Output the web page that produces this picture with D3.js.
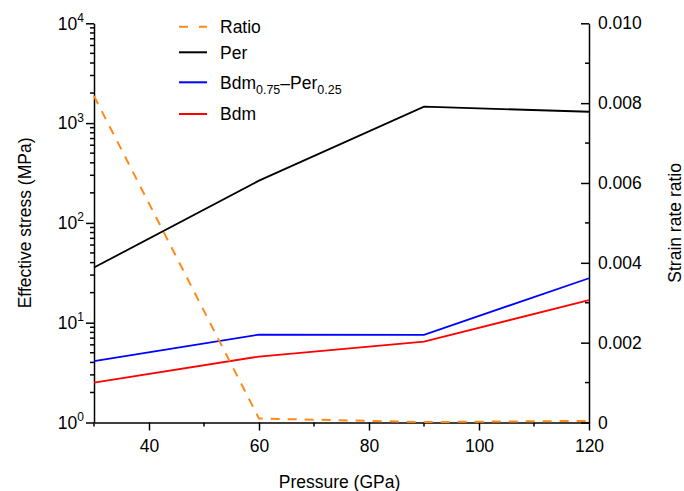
<!DOCTYPE html>
<html>
<head>
<meta charset="utf-8">
<script src="https://cdn.jsdelivr.net/npm/d3@7"></script>
<style>
  body { margin: 0; background: #fff; }
  svg { font-family: "Liberation Sans", Arial, Helvetica, sans-serif; }
  .axis path, .axis line { stroke: #000; stroke-width: 1.5; }
  .axis text { font-size: 17.5px; fill: #000; }
</style>
</head>
<body>
<svg id="chart" width="684" height="491"></svg>
<script>
// pressure points (GPa)
const pressure = [30, 60, 90, 120];
// effective stress (MPa), log axis
const per = [35.7, 265, 1460, 1300];
const bdmPer = [4.12, 7.6, 7.56, 27.9];
const bdm = [2.51, 4.58, 6.47, 16.8];
// strain rate ratio, right axis
const ratio = [0.00818, 0.0001, 0.00001, 0.00004];

const xTicks = [40, 60, 80, 100, 120];
const xMinor = [30, 50, 70, 90, 110];
const yDecades = [0, 1, 2, 3, 4];
const y2Ticks = [0, 0.002, 0.004, 0.006, 0.008, 0.010];
const y2Minor = [0.001, 0.003, 0.005, 0.007, 0.009];

const mLeft = 94, mRight = 589, mTop = 23.3, mBottom = 422.5;
const fs = 17.5;

let svg = d3.select('#chart');
let x = d3.scaleLinear().domain([30, 120]).range([mLeft, mRight]);
let y = d3.scaleLog().domain([1, 10000]).range([mBottom, mTop]);
let y2 = d3.scaleLinear().domain([0, 0.010]).range([mBottom, mTop]);

// minor ticks
let minorLog = [];
yDecades.slice(0, 4).forEach(e => {
    for (let k = 2; k <= 9; k++) minorLog.push(k * Math.pow(10, e));
});
let minor = svg.append('g').attr('stroke', '#000').attr('stroke-width', 1.5);
minor.selectAll('.ml').data(minorLog).enter().append('line')
    .attr('x1', mLeft - 4).attr('x2', mLeft)
    .attr('y1', d => y(d)).attr('y2', d => y(d));
minor.selectAll('.mr').data(y2Minor).enter().append('line')
    .attr('x1', mRight - 4).attr('x2', mRight)
    .attr('y1', d => y2(d)).attr('y2', d => y2(d));
minor.selectAll('.mb').data(xMinor).enter().append('line')
    .attr('x1', d => x(d)).attr('x2', d => x(d))
    .attr('y1', mBottom).attr('y2', mBottom + 4);

// bottom axis
svg.append('g').attr('class', 'axis')
    .attr('transform', 'translate(0,' + mBottom + ')')
    .call(d3.axisBottom(x).tickValues(xTicks).tickSize(8).tickSizeOuter(0).tickPadding(9));

// left axis with 10^n labels
svg.append('g').attr('class', 'axis')
    .attr('transform', 'translate(' + mLeft + ',0)')
    .call(d3.axisLeft(y).tickValues(yDecades.map(e => Math.pow(10, e)))
        .tickSize(8).tickSizeOuter(0).tickFormat(''));
let labs = svg.append('g').attr('font-size', fs);
yDecades.forEach(e => {
    let t = labs.append('text')
        .attr('x', mLeft - 10).attr('y', y(Math.pow(10, e)))
        .attr('dy', '0.36em').attr('text-anchor', 'end');
    t.append('tspan').text('10');
    t.append('tspan').attr('font-size', 12).attr('dy', '-0.65em').text(e);
});

// right axis
svg.append('g').attr('class', 'axis')
    .attr('transform', 'translate(' + mRight + ',0)')
    .call(d3.axisRight(y2).tickValues(y2Ticks).tickSize(-8).tickSizeOuter(0).tickPadding(9)
        .tickFormat(d => d === 0 ? '0' : d3.format('.3f')(d)));

// axis titles
svg.append('text').attr('font-size', fs).attr('text-anchor', 'middle')
    .attr('x', (mLeft + mRight) / 2 - 2).attr('y', 488).text('Pressure (GPa)');
svg.append('text').attr('font-size', fs).attr('text-anchor', 'middle')
    .attr('transform', 'translate(31,' + (mTop + mBottom) / 2 + ') rotate(-90)')
    .text('Effective stress (MPa)');
svg.append('text').attr('font-size', fs).attr('text-anchor', 'middle')
    .attr('transform', 'translate(681,' + (mTop + mBottom) / 2 + ') rotate(-90)')
    .text('Strain rate ratio');

// lines
let line = d3.line().x((d, i) => x(pressure[i])).y(d => y(d));
let line2 = d3.line().x((d, i) => x(pressure[i])).y(d => y2(d));
const series = [
    { vals: bdm, color: '#ff0000' },
    { vals: bdmPer, color: '#0000ff' },
    { vals: per, color: '#000000' }
];
series.forEach(s => {
    svg.append('path').datum(s.vals)
        .attr('fill', 'none').attr('stroke', s.color).attr('stroke-width', 1.8)
        .attr('d', line);
});
svg.append('path').datum(ratio)
    .attr('fill', 'none').attr('stroke', '#ff8a1a').attr('stroke-width', 2)
    .attr('stroke-dasharray', '9,8')
    .attr('d', line2);

// legend
const legend = [
    { y: 26.7, color: '#ff8a1a', dash: '9,11', parts: [['Ratio']] },
    { y: 52.3, color: '#000000', parts: [['Per']] },
    { y: 82.3, color: '#0000ff', parts: [['Bdm'], ['0.75', 'sub'], ['\u2013Per'], ['0.25', 'sub']] },
    { y: 114, color: '#ff0000', parts: [['Bdm']] }
];
let lg = svg.append('g');
legend.forEach(l => {
    lg.append('line')
        .attr('x1', 179).attr('x2', 207).attr('y1', l.y).attr('y2', l.y)
        .attr('stroke', l.color).attr('stroke-width', 2)
        .attr('stroke-dasharray', l.dash || null);
    let t = lg.append('text').attr('font-size', fs)
        .attr('x', 220).attr('y', l.y).attr('dy', '0.36em');
    let sub = false;
    l.parts.forEach(p => {
        let ts = t.append('tspan').text(p[0]);
        if (p[1] === 'sub') {
            ts.attr('font-size', 12.5).attr('dy', sub ? 0 : 5);
            sub = true;
        } else if (sub) {
            ts.attr('dy', -5);
            sub = false;
        }
    });
});
</script>
</body>
</html>
